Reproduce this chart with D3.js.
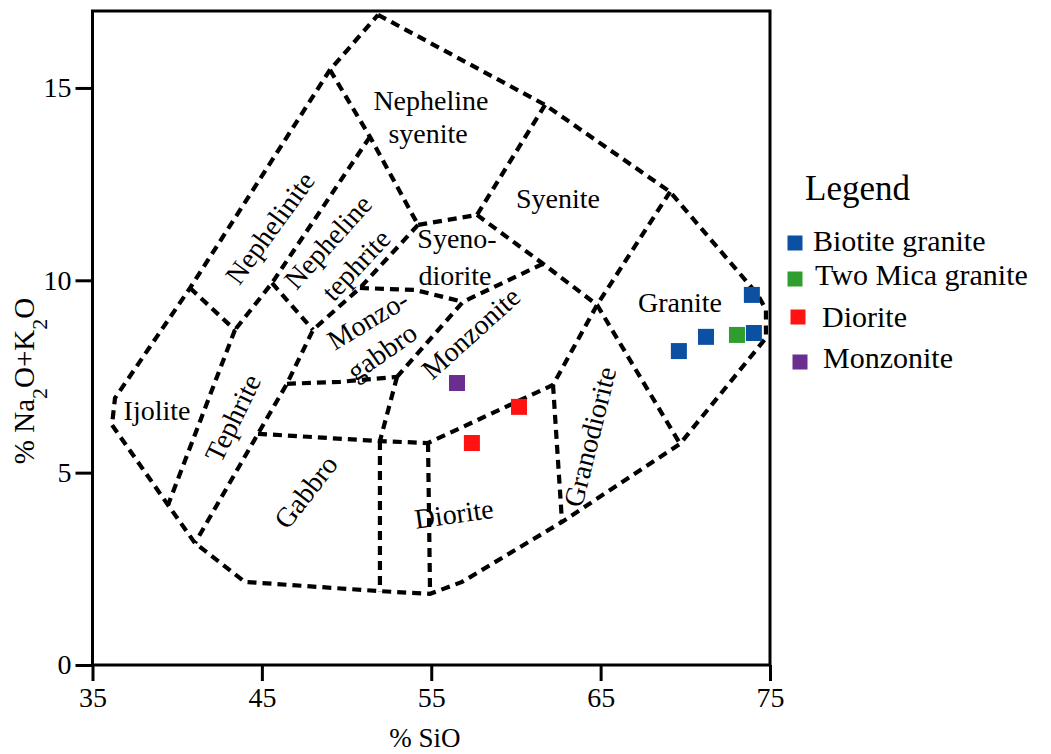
<!DOCTYPE html>
<html>
<head>
<meta charset="utf-8">
<script src="https://cdn.jsdelivr.net/npm/d3@7"></script>
<style>
  body { margin: 0; background: #fff; }
  svg { display: block; font-family: "Liberation Serif", "Times New Roman", serif; }
</style>
</head>
<body>
<svg id="chart" width="1051" height="754"></svg>
<script>
// ---------- data ----------
const xTicks = [35, 45, 55, 65, 75];
const yTicks = [0, 5, 10, 15];

// outer boundary of the TAS field (SiO2 %, Na2O+K2O %)
const outerBoundary = [
  [51.86, 16.90], [61.72, 14.56], [69.10, 12.30], [74.29, 9.62], [74.76, 9.23],
  [74.76, 8.50], [69.69, 5.75], [62.72, 3.72], [56.82, 2.16], [54.93, 1.85],
  [51.97, 1.92], [44.00, 2.16], [41.05, 3.17], [39.46, 4.16], [36.15, 6.24],
  [36.33, 6.94], [40.76, 9.80], [49.02, 15.47], [51.86, 16.90]
];

// internal field boundaries
const innerBoundaries = [
  [[49.02, 15.47], [51.38, 13.73], [54.22, 11.44]],
  [[51.38, 13.73], [45.60, 9.93], [43.41, 8.71]],
  [[40.76, 9.80], [43.41, 8.71]],
  [[43.41, 8.71], [39.46, 4.16]],
  [[45.60, 9.93], [48.02, 8.71]],
  [[54.22, 11.44], [50.79, 9.80], [48.02, 8.71], [46.48, 7.31], [44.77, 6.01], [41.05, 3.17]],
  [[61.72, 14.56], [57.70, 11.70], [54.22, 11.44]],
  [[50.79, 9.80], [54.04, 9.75], [56.87, 9.44]],
  [[61.60, 10.43], [56.87, 9.44], [52.98, 7.49]],
  [[46.48, 7.31], [49.61, 7.36], [52.98, 7.49]],
  [[52.98, 7.49], [51.97, 5.82]],
  [[44.77, 6.01], [51.97, 5.82], [54.81, 5.77], [62.19, 7.28]],
  [[51.97, 5.82], [51.97, 1.92]],
  [[54.81, 5.77], [54.93, 1.85]],
  [[62.19, 7.28], [62.72, 3.72]],
  [[69.10, 12.30], [64.79, 9.36], [62.19, 7.28]],
  [[57.70, 11.70], [61.60, 10.43], [64.79, 9.36], [69.69, 5.75]]
];

// field names: [text, SiO2, alkali, angle, anchoring]
const fieldLabels = [
  ["Nepheline", 54.98, 14.43, 0, "base"],
  ["syenite", 54.81, 13.57, 0, "base"],
  ["Syenite", 62.48, 11.88, 0, "base"],
  ["Syeno-", 56.52, 10.84, 0, "base"],
  ["diorite", 56.40, 9.88, 0, "base"],
  ["Granite", 69.69, 9.18, 0, "base"],
  ["Ijolite", 38.81, 6.37, 0, "base"],
  ["Nephelinite", 45.48, 11.36, -54, "mid"],
  ["Nepheline", 48.90, 11.00, -48, "mid"],
  ["tephrite", 50.56, 10.40, -47, "mid"],
  ["Monzo-", 51.26, 8.97, -31, "mid"],
  ["gabbro", 52.09, 8.14, -35, "mid"],
  ["Monzonite", 57.34, 8.63, -42, "mid"],
  ["Tephrite", 43.29, 6.42, -64, "mid"],
  ["Gabbro", 47.60, 4.50, -52, "mid"],
  ["Diorite", 56.34, 3.93, -8, "mid"],
  ["Granodiorite", 64.37, 5.93, -76, "mid"]
];

// samples
const seriesNames = ["Biotite granite", "Two Mica granite", "Diorite", "Monzonite"];
const biotiteGranite = [[69.62, 8.16], [71.22, 8.53], [73.93, 9.62], [74.05, 8.63]];
const twoMicaGranite = [[73.05, 8.58]];
const diorite = [[60.18, 6.71], [57.40, 5.77]];
const monzonite = [[56.52, 7.33]];
const seriesColors = ["#0b50a2", "#2f9e2f", "#fe1212", "#6b2d8f"];

// ---------- chart ----------
const svg = d3.select("#chart");
const x = d3.scaleLinear().domain([35, 75]).range([92.5, 770]);
const y = d3.scaleLinear().domain([0, 17]).range([665, 11]);

const line = d3.line().x(d => x(d[0])).y(d => y(d[1]));

// boundaries
const g = svg.append("g")
  .attr("fill", "none").attr("stroke", "#000")
  .attr("stroke-width", 4.2).attr("stroke-dasharray", "9,6");
g.append("path").attr("d", line(outerBoundary));
innerBoundaries.forEach(p => g.append("path").attr("d", line(p)));

// field labels
fieldLabels.forEach(([t, sx, sy, a, mode]) => {
  const px = x(sx), py = y(sy);
  svg.append("text")
    .attr("x", px).attr("y", py)
    .attr("text-anchor", "middle")
    .attr("dominant-baseline", mode === "mid" ? "central" : "alphabetic")
    .attr("transform", a ? `rotate(${a},${px},${py})` : null)
    .attr("font-size", 28)
    .attr("fill", "#000")
    .text(t);
});

// samples
const allSeries = [biotiteGranite, twoMicaGranite, diorite, monzonite];
allSeries.forEach((pts, i) => {
  svg.append("g").selectAll("rect").data(pts).join("rect")
    .attr("x", d => x(d[0]) - 8).attr("y", d => y(d[1]) - 8)
    .attr("width", 16).attr("height", 16)
    .attr("fill", seriesColors[i]);
});

// axes
const xAxis = svg.append("g").attr("transform", "translate(0,665)")
  .call(d3.axisBottom(x).tickValues(xTicks).tickSize(16).tickPadding(6).tickFormat(d3.format("d")));
const yAxis = svg.append("g").attr("transform", "translate(92.5,0)")
  .call(d3.axisLeft(y).tickValues(yTicks).tickSize(17).tickPadding(4).tickFormat(d3.format("d")));
[xAxis, yAxis].forEach(a => {
  a.select(".domain").remove();
  a.selectAll(".tick line").attr("stroke", "#000").attr("stroke-width", 3);
  a.selectAll(".tick text").attr("font-family", "Liberation Serif, serif")
    .attr("font-size", 28).attr("fill", "#000");
});

// frame
svg.append("rect").attr("x", x(35)).attr("y", y(17))
  .attr("width", x(75) - x(35)).attr("height", y(0) - y(17))
  .attr("fill", "none").attr("stroke", "#000").attr("stroke-width", 3);

// axis titles
svg.append("text").attr("x", 425).attr("y", 747).attr("text-anchor", "middle")
  .attr("font-size", 27).text("% SiO");

const yt = svg.append("text").attr("transform", "translate(34,381) rotate(-90)")
  .attr("text-anchor", "middle").attr("font-size", 29);
yt.append("tspan").text("% Na");
yt.append("tspan").attr("baseline-shift", "sub").attr("font-size", 22).text("2");
yt.append("tspan").text("O+K");
yt.append("tspan").attr("baseline-shift", "sub").attr("font-size", 22).text("2");
yt.append("tspan").text("O");

// legend
svg.append("text").attr("x", 805).attr("y", 200).attr("font-size", 35).text("Legend");
const legendRows = [
  { sq: [795, 243], tx: 813, ty: 251 },
  { sq: [795, 279], tx: 815, ty: 285 },
  { sq: [798, 317], tx: 822, ty: 327 },
  { sq: [800, 362], tx: 823, ty: 368 }
];
seriesNames.forEach((n, i) => {
  const r = legendRows[i];
  svg.append("rect").attr("x", r.sq[0] - 7.5).attr("y", r.sq[1] - 7.5)
    .attr("width", 15).attr("height", 15).attr("fill", seriesColors[i]);
  svg.append("text").attr("x", r.tx).attr("y", r.ty).attr("font-size", 30).text(n);
});
</script>
</body>
</html>
